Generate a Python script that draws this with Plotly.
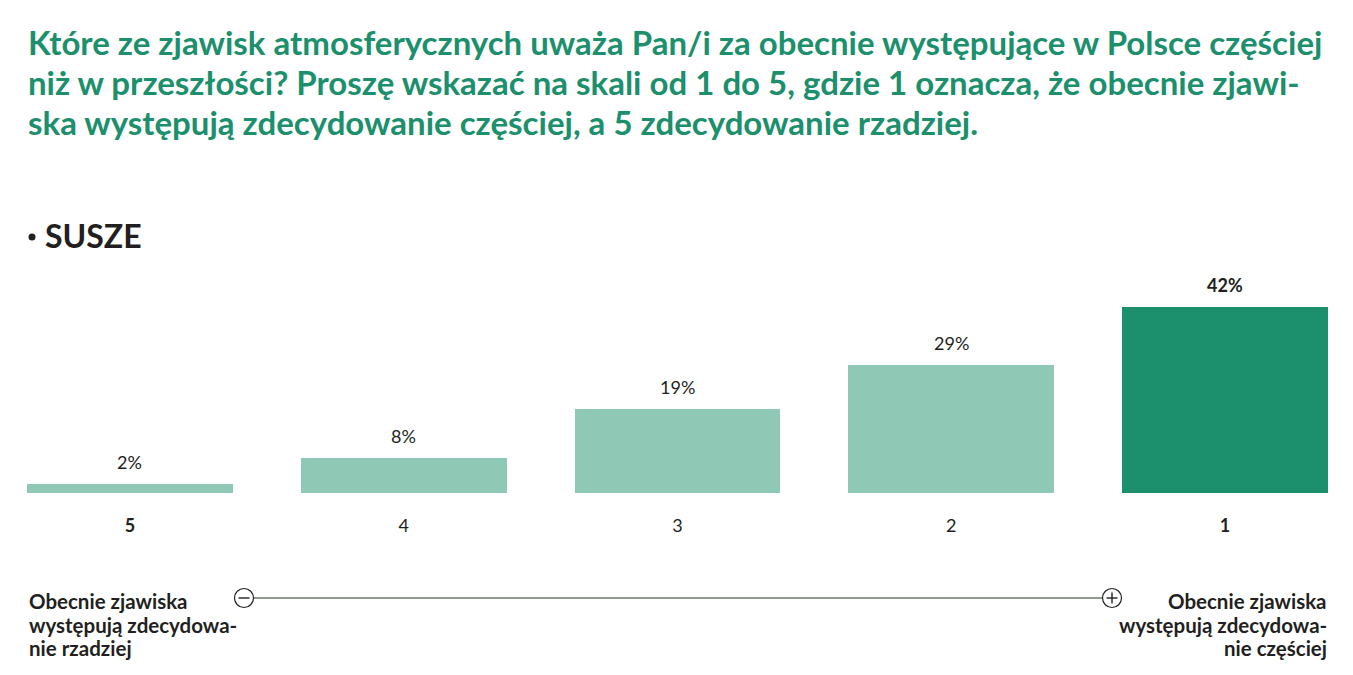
import plotly.graph_objects as go

categories = ["5", "4", "3", "2", "1"]
values = [2, 8, 19, 29, 42]
value_labels = ["2%", "8%", "19%", "29%", "42%"]
tick_labels = ["<b>5</b>", "4", "3", "2", "<b>1</b>"]

title_lines = [
    "Które ze zjawisk atmosferycznych uważa Pan/i za obecnie występujące w Polsce częściej",
    "niż w przeszłości? Proszę wskazać na skali od 1 do 5, gdzie 1 oznacza, że obecnie zjawi-",
    "ska występują zdecydowanie częściej, a 5 zdecydowanie rzadziej.",
]
subtitle = "SUSZE"
left_lines = ["Obecnie zjawiska", "występują zdecydowa-", "nie rzadziej"]
right_lines = ["Obecnie zjawiska", "występują zdecydowa-", "nie częściej"]

W, H = 1353, 675
L, R = 27, 1328
TOP, BOT = 280, 493
DARK = "#1c8f6c"
LIGHT = "#8fc8b5"
TXT = "#231f20"
FONT = "Lato"

def px(x):
    return (x - L) / (R - L)

def py(y):
    return (BOT - y) / (BOT - TOP)

xs = list(range(len(categories)))
colors = [LIGHT] * 4 + [DARK]

fig = go.Figure()
fig.add_trace(go.Bar(x=xs, y=values, width=0.752, marker=dict(color=colors, line=dict(width=0)),
                     hoverinfo="skip"))

annotations = []
for i, (v, lab) in enumerate(zip(values, value_labels)):
    last = i == len(values) - 1
    annotations.append(dict(x=i, y=v, xref="x", yref="y", text=lab, showarrow=False,
                            yanchor="bottom", yshift=9,
                            font=dict(family=FONT, size=18, color=TXT,
                                      weight=700 if last else 400)))

for k, line in enumerate(title_lines):
    annotations.append(dict(x=px(26), y=py(42 + 40 * k), xref="paper", yref="paper",
                            text=line, showarrow=False, align="left",
                            xanchor="left", yanchor="middle",
                            font=dict(family=FONT, size=33, color=DARK, weight=700)))

annotations.append(dict(x=px(43), y=py(235), xref="paper", yref="paper",
                        text=subtitle, showarrow=False, xanchor="left", yanchor="middle",
                        font=dict(family=FONT, size=32, color=TXT, weight=700)))

for k, (ll, rl) in enumerate(zip(left_lines, right_lines)):
    yy = py(601 + 23.5 * k)
    annotations.append(dict(x=px(27), y=yy, xref="paper", yref="paper",
                            text=ll, showarrow=False, xanchor="left", yanchor="middle",
                            font=dict(family=FONT, size=20.5, color=TXT, weight=700)))
    annotations.append(dict(x=px(1329), y=yy, xref="paper", yref="paper",
                            text=rl, showarrow=False, xanchor="right", yanchor="middle",
                            font=dict(family=FONT, size=20.5, color=TXT, weight=700)))

LINE = "#24381f"
shapes = [
    dict(type="line", xref="paper", yref="paper", x0=px(254), x1=px(1102), y0=py(598), y1=py(598),
         line=dict(color=LINE, width=1)),
    dict(type="circle", xref="paper", yref="paper", xsizemode="pixel", ysizemode="pixel",
         xanchor=px(32), yanchor=py(237), x0=-3.5, x1=3.5, y0=-3.5, y1=3.5,
         line=dict(width=0), fillcolor=TXT),
]
for cx, plus in [(244, False), (1112, True)]:
    shapes.append(dict(type="circle", xref="paper", yref="paper", xsizemode="pixel", ysizemode="pixel",
                       xanchor=px(cx), yanchor=py(598), x0=-9.5, x1=9.5, y0=-9.5, y1=9.5,
                       line=dict(color=TXT, width=1.2), fillcolor="white"))
    shapes.append(dict(type="line", xref="paper", yref="paper", xsizemode="pixel", ysizemode="pixel",
                       xanchor=px(cx), yanchor=py(598), x0=-5.5, x1=5.5, y0=0, y1=0,
                       line=dict(color=TXT, width=1.4)))
    if plus:
        shapes.append(dict(type="line", xref="paper", yref="paper", xsizemode="pixel", ysizemode="pixel",
                           xanchor=px(cx), yanchor=py(598), x0=0, x1=0, y0=-5.5, y1=5.5,
                           line=dict(color=TXT, width=1.4)))

fig.update_layout(
    width=W, height=H,
    margin=dict(l=L, r=W - R, t=TOP, b=H - BOT, pad=0),
    paper_bgcolor="white", plot_bgcolor="white",
    showlegend=False,
    annotations=annotations, shapes=shapes,
    xaxis=dict(range=[-0.376, 4.376], tickmode="array", tickvals=xs, ticktext=tick_labels,
               showgrid=False, zeroline=False, showline=False, ticks="",
               ticklabelstandoff=20,
               tickfont=dict(family=FONT, size=18, color=TXT), fixedrange=True),
    yaxis=dict(range=[0, 48.1], visible=False, fixedrange=True),
    bargap=0,
)

fig.write_html("out.html", config={"displayModeBar": False})
